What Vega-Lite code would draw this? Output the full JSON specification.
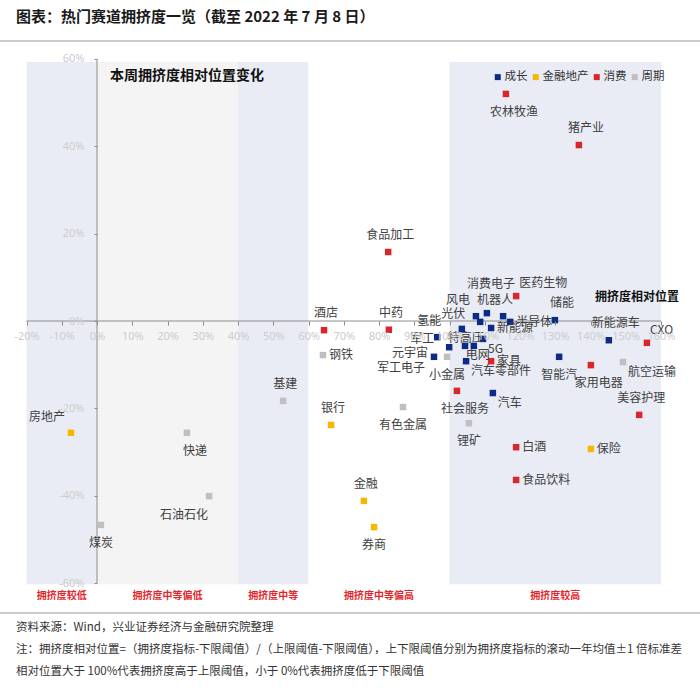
{
  "$schema": "https://vega.github.io/schema/vega-lite/v6.json",
  "width": 700,
  "height": 690,
  "autosize": {"type": "none"},
  "padding": 0,
  "background": "white",
  "config": {"view": {"stroke": null}, "font": "Noto Sans CJK SC", "text": {"font": "Noto Sans CJK SC"}, "axis": {"labelOverlap": false, "labelFlush": false, "labelBound": false}},
  "datasets": {
    "sectors": [
      {"name": "农林牧渔", "type": "消费", "x": 116.0, "y": 52.0},
      {"name": "猪产业", "type": "消费", "x": 136.7, "y": 40.3},
      {"name": "食品加工", "type": "消费", "x": 82.6, "y": 15.8},
      {"name": "酒店", "type": "消费", "x": 64.4, "y": -2.1},
      {"name": "中药", "type": "消费", "x": 82.8, "y": -2.0},
      {"name": "医药生物", "type": "消费", "x": 118.9, "y": 5.7},
      {"name": "CXO", "type": "消费", "x": 156.0, "y": -5.0},
      {"name": "家具", "type": "消费", "x": 111.8, "y": -9.2},
      {"name": "家用电器", "type": "消费", "x": 140.1, "y": -10.1},
      {"name": "社会服务", "type": "消费", "x": 102.1, "y": -16.0},
      {"name": "美容护理", "type": "消费", "x": 153.8, "y": -21.5},
      {"name": "白酒", "type": "消费", "x": 118.9, "y": -28.9},
      {"name": "食品饮料", "type": "消费", "x": 118.9, "y": -36.4},
      {"name": "房地产", "type": "金融地产", "x": -7.4, "y": -25.6},
      {"name": "银行", "type": "金融地产", "x": 66.4, "y": -23.8},
      {"name": "金融", "type": "金融地产", "x": 75.7, "y": -41.2},
      {"name": "券商", "type": "金融地产", "x": 78.6, "y": -47.2},
      {"name": "保险", "type": "金融地产", "x": 140.1, "y": -29.3},
      {"name": "基建", "type": "周期", "x": 52.8, "y": -18.3},
      {"name": "快递", "type": "周期", "x": 25.5, "y": -25.6},
      {"name": "石油石化", "type": "周期", "x": 31.8, "y": -40.1},
      {"name": "煤炭", "type": "周期", "x": 1.1, "y": -46.7},
      {"name": "钢铁", "type": "周期", "x": 64.1, "y": -7.8},
      {"name": "有色金属", "type": "周期", "x": 86.8, "y": -19.7},
      {"name": "锂矿", "type": "周期", "x": 105.5, "y": -23.4},
      {"name": "航空运输", "type": "周期", "x": 149.2, "y": -9.4},
      {"name": "小金属", "type": "周期", "x": 99.3, "y": -8.2},
      {"name": "风电", "type": "成长", "x": 107.5, "y": 1.1},
      {"name": "光伏", "type": "成长", "x": 108.7, "y": -0.2},
      {"name": "消费电子", "type": "成长", "x": 110.6, "y": 1.8},
      {"name": "机器人", "type": "成长", "x": 115.2, "y": 1.1},
      {"name": "半导体", "type": "成长", "x": 117.2, "y": -0.2},
      {"name": "特高压", "type": "成长", "x": 103.5, "y": -1.8},
      {"name": "新能源", "type": "成长", "x": 111.8, "y": -1.6},
      {"name": "氢能", "type": "成长", "x": 96.5, "y": -3.7},
      {"name": "军工", "type": "成长", "x": 99.9, "y": -6.0},
      {"name": "军工电子", "type": "成长", "x": 104.4, "y": -5.7},
      {"name": "电网", "type": "成长", "x": 106.9, "y": -5.7},
      {"name": "5G", "type": "成长", "x": 109.5, "y": -4.1},
      {"name": "元宇宙", "type": "成长", "x": 95.6, "y": -8.2},
      {"name": "汽车零部件", "type": "成长", "x": 104.7, "y": -9.2},
      {"name": "储能", "type": "成长", "x": 129.9, "y": 0.2},
      {"name": "新能源车", "type": "成长", "x": 145.2, "y": -4.4},
      {"name": "智能汽", "type": "成长", "x": 131.1, "y": -8.2},
      {"name": "汽车", "type": "成长", "x": 112.3, "y": -16.5}
    ],
    "regions": [
      {"region": "拥挤度较低", "lo": -20, "hi": 0, "mid": -10},
      {"region": "拥挤度中等偏低", "lo": 0, "hi": 40, "mid": 20},
      {"region": "拥挤度中等", "lo": 40, "hi": 60, "mid": 50},
      {"region": "拥挤度中等偏高", "lo": 60, "hi": 100, "mid": 80},
      {"region": "拥挤度较高", "lo": 100, "hi": 160, "mid": 130}
    ],
    "notes": [
      {"role": "title", "text": "图表：热门赛道拥挤度一览（截至 2022 年 7 月 8 日）"},
      {"role": "heading", "text": "本周拥挤度相对位置变化"},
      {"role": "axisname", "text": "拥挤度相对位置"},
      {"role": "source", "text": "资料来源：Wind，兴业证券经济与金融研究院整理"},
      {"role": "note1", "text": "注：拥挤度相对位置=（拥挤度指标-下限阈值）/（上限阈值-下限阈值），上下限阈值分别为拥挤度指标的滚动一年均值±1 倍标准差"},
      {"role": "note2", "text": "相对位置大于 100%代表拥挤度高于上限阈值，小于 0%代表拥挤度低于下限阈值"}
    ]
  },
  "layer": [
    {
      "data": {"name": "regions"},
      "mark": {"type": "rect"},
      "encoding": {
        "x": {"field": "lo", "type": "quantitative", "title": null, "scale": {"domain": [-27.52, 171.06], "nice": false, "zero": false}},
        "x2": {"field": "hi"},
        "y": {"datum": -60.3, "type": "quantitative", "title": null, "scale": {"domain": [-84.5, 73.51], "nice": false, "zero": false}},
        "y2": {"datum": 59.3},
        "fill": {"field": "region", "type": "nominal", "scale": {"domain": ["拥挤度较低", "拥挤度中等偏低", "拥挤度中等", "拥挤度中等偏高", "拥挤度较高"], "range": ["#e9ecf5", "#f4f4f4", "#e9ecf5", "#ffffff", "#e9ecf5"]}, "legend": null}
      }
    },
    {
      "data": {"name": "regions"},
      "mark": {"type": "text", "align": "center", "baseline": "middle", "fontSize": 10, "fontWeight": "bold", "color": "#e3262b"},
      "encoding": {
        "x": {"field": "mid", "type": "quantitative", "title": null},
        "y": {"datum": -63.0, "type": "quantitative", "title": null},
        "text": {"field": "region"}
      }
    },
    {
      "data": {"name": "notes"},
      "transform": [{"filter": "datum.role == 'title'"}],
      "mark": {"type": "rule", "color": "#9a9a9a", "strokeWidth": 1.2},
      "encoding": {
        "y": {"datum": 64.12, "type": "quantitative", "title": null}
      }
    },
    {
      "data": {"name": "notes"},
      "transform": [{"filter": "datum.role == 'source'"}],
      "mark": {"type": "rule", "color": "#9a9a9a", "strokeWidth": 1.2},
      "encoding": {
        "y": {"datum": -66.87, "type": "quantitative", "title": null}
      }
    },
    {
      "data": {"name": "regions"},
      "transform": [{"filter": "datum.lo == -20"}],
      "mark": {"type": "rule", "color": "#8c8c8c", "strokeWidth": 1},
      "encoding": {
        "x": {"datum": -20, "type": "quantitative", "title": null},
        "x2": {"datum": 160},
        "y": {"datum": 0, "type": "quantitative", "title": null}
      }
    },
    {
      "data": {"name": "regions"},
      "transform": [{"filter": "datum.lo == -20"}],
      "mark": {"type": "rule", "color": "#8c8c8c", "strokeWidth": 1},
      "encoding": {
        "x": {"datum": 0, "type": "quantitative", "title": null},
        "y": {"datum": -60, "type": "quantitative", "title": null},
        "y2": {"datum": 60}
      }
    },
    {
      "data": {"name": "sectors"},
      "mark": {"type": "square", "size": 42, "opacity": 1},
      "encoding": {
        "x": {"field": "x", "type": "quantitative", "title": null, "scale": {"domain": [-27.52, 171.06], "nice": false, "zero": false},
          "axis": {"orient": "bottom", "offset": -369, "zindex": 1, "values": [-20, -10, 0, 10, 20, 30, 40, 50, 60, 70, 80, 90, 100, 110, 120, 130, 140, 150, 160], "tickCount": 19, "labelExpr": "datum.value + '%'", "domain": false, "grid": false, "title": null, "ticks": true, "tickSize": 4, "tickColor": "#8c8c8c", "labelPadding": 5, "labelFont": "Noto Sans", "labelFontSize": 11, "labelColor": "#cccccc", "labelFlush": false, "labelOverlap": false}},
        "y": {"field": "y", "type": "quantitative", "title": null, "scale": {"domain": [-84.5, 73.51], "nice": false, "zero": false},
          "axis": {"orient": "left", "offset": -97, "zindex": 1, "values": [-60, -40, -20, 0, 20, 40, 60], "labelExpr": "datum.value + '%'", "domain": false, "grid": false, "title": null, "ticks": true, "tickSize": 3, "tickColor": "#8c8c8c", "labelPadding": 10, "labelFont": "Noto Sans", "labelFontSize": 11, "labelColor": "#cccccc", "labelFlush": false, "labelOverlap": false}},
        "color": {"field": "type", "type": "nominal",
          "scale": {"domain": ["成长", "金融地产", "消费", "周期"], "range": ["#0d2a85", "#f5b800", "#d8262c", "#bfbfbf"]},
          "legend": {"orient": "none", "legendX": 492, "legendY": 71, "direction": "horizontal", "title": null, "symbolType": "square", "symbolSize": 36, "symbolStrokeWidth": 0, "labelFontSize": 11.5, "labelColor": "#333333", "labelFont": "Noto Sans CJK SC", "labelOffset": 1, "columnPadding": 2, "padding": 0}}
      }
    },
    {
      "data": {"name": "sectors"},
      "transform": [{"filter": {"field": "name", "oneOf": ["食品加工", "酒店", "中药", "美容护理", "银行", "金融", "基建"]}}],
      "mark": {"type": "text", "align": "center", "baseline": "middle", "dx": 2, "dy": -17, "fontSize": 12, "color": "#404040"},
      "encoding": {
        "x": {"field": "x", "type": "quantitative", "title": null},
        "y": {"field": "y", "type": "quantitative", "title": null},
        "text": {"field": "name"}
      }
    },
    {
      "data": {"name": "sectors"},
      "transform": [{"filter": {"field": "name", "oneOf": ["猪产业", "储能", "新能源车"]}}],
      "mark": {"type": "text", "align": "center", "baseline": "middle", "dx": 7, "dy": -17, "fontSize": 12, "color": "#404040"},
      "encoding": {
        "x": {"field": "x", "type": "quantitative", "title": null},
        "y": {"field": "y", "type": "quantitative", "title": null},
        "text": {"field": "name"}
      }
    },
    {
      "data": {"name": "sectors"},
      "transform": [{"filter": {"field": "name", "oneOf": ["机器人", "氢能"]}}],
      "mark": {"type": "text", "align": "center", "baseline": "middle", "dx": -8, "dy": -16, "fontSize": 12, "color": "#404040"},
      "encoding": {
        "x": {"field": "x", "type": "quantitative", "title": null},
        "y": {"field": "y", "type": "quantitative", "title": null},
        "text": {"field": "name"}
      }
    },
    {
      "data": {"name": "sectors"},
      "transform": [{"filter": {"field": "name", "oneOf": ["券商", "煤炭", "有色金属", "锂矿", "小金属", "智能汽"]}}],
      "mark": {"type": "text", "align": "center", "baseline": "middle", "dx": 0, "dy": 18, "fontSize": 12, "color": "#404040"},
      "encoding": {
        "x": {"field": "x", "type": "quantitative", "title": null},
        "y": {"field": "y", "type": "quantitative", "title": null},
        "text": {"field": "name"}
      }
    },
    {
      "data": {"name": "sectors"},
      "transform": [{"filter": {"field": "name", "oneOf": ["农林牧渔", "家用电器", "社会服务", "快递"]}}],
      "mark": {"type": "text", "align": "center", "baseline": "middle", "dx": 8, "dy": 18, "fontSize": 12, "color": "#404040"},
      "encoding": {
        "x": {"field": "x", "type": "quantitative", "title": null},
        "y": {"field": "y", "type": "quantitative", "title": null},
        "text": {"field": "name"}
      }
    },
    {
      "data": {"name": "sectors"},
      "transform": [{"filter": {"field": "name", "oneOf": ["家具", "白酒", "食品饮料", "保险", "钢铁", "半导体", "新能源"]}}],
      "mark": {"type": "text", "align": "left", "baseline": "middle", "dx": 6, "dy": 0, "fontSize": 12, "color": "#404040"},
      "encoding": {
        "x": {"field": "x", "type": "quantitative", "title": null},
        "y": {"field": "y", "type": "quantitative", "title": null},
        "text": {"field": "name"}
      }
    },
    {
      "data": {"name": "sectors"},
      "transform": [{"filter": {"field": "name", "oneOf": ["航空运输", "5G", "汽车", "汽车零部件"]}}],
      "mark": {"type": "text", "align": "left", "baseline": "middle", "dx": 5, "dy": 10, "fontSize": 12, "color": "#404040"},
      "encoding": {
        "x": {"field": "x", "type": "quantitative", "title": null},
        "y": {"field": "y", "type": "quantitative", "title": null},
        "text": {"field": "name"}
      }
    },
    {
      "data": {"name": "sectors"},
      "transform": [{"filter": {"field": "name", "oneOf": ["元宇宙"]}}],
      "mark": {"type": "text", "align": "right", "baseline": "middle", "dx": -6, "dy": -4, "fontSize": 12, "color": "#404040"},
      "encoding": {
        "x": {"field": "x", "type": "quantitative", "title": null},
        "y": {"field": "y", "type": "quantitative", "title": null},
        "text": {"field": "name"}
      }
    },
    {
      "data": {"name": "sectors"},
      "transform": [{"filter": {"field": "name", "oneOf": ["军工", "光伏"]}}],
      "mark": {"type": "text", "align": "right", "baseline": "middle", "dx": -15, "dy": -8, "fontSize": 12, "color": "#404040"},
      "encoding": {
        "x": {"field": "x", "type": "quantitative", "title": null},
        "y": {"field": "y", "type": "quantitative", "title": null},
        "text": {"field": "name"}
      }
    },
    {
      "data": {"name": "sectors"},
      "transform": [{"filter": {"field": "name", "oneOf": ["风电", "房地产"]}}],
      "mark": {"type": "text", "align": "right", "baseline": "middle", "dx": -6, "dy": -16, "fontSize": 12, "color": "#404040"},
      "encoding": {
        "x": {"field": "x", "type": "quantitative", "title": null},
        "y": {"field": "y", "type": "quantitative", "title": null},
        "text": {"field": "name"}
      }
    },
    {
      "data": {"name": "sectors"},
      "transform": [{"filter": {"field": "name", "oneOf": ["石油石化"]}}],
      "mark": {"type": "text", "align": "right", "baseline": "middle", "dx": -1, "dy": 19, "fontSize": 12, "color": "#404040"},
      "encoding": {
        "x": {"field": "x", "type": "quantitative", "title": null},
        "y": {"field": "y", "type": "quantitative", "title": null},
        "text": {"field": "name"}
      }
    },
    {
      "data": {"name": "sectors"},
      "transform": [{"filter": {"field": "name", "oneOf": ["军工电子"]}}],
      "mark": {"type": "text", "align": "right", "baseline": "middle", "dx": -40, "dy": 22, "fontSize": 12, "color": "#404040"},
      "encoding": {
        "x": {"field": "x", "type": "quantitative", "title": null},
        "y": {"field": "y", "type": "quantitative", "title": null},
        "text": {"field": "name"}
      }
    },
    {
      "data": {"name": "sectors"},
      "transform": [{"filter": {"field": "name", "oneOf": ["医药生物", "CXO"]}}],
      "mark": {"type": "text", "align": "left", "baseline": "middle", "dx": 3, "dy": -13, "fontSize": 12, "color": "#404040"},
      "encoding": {
        "x": {"field": "x", "type": "quantitative", "title": null},
        "y": {"field": "y", "type": "quantitative", "title": null},
        "text": {"field": "name"}
      }
    },
    {
      "data": {"name": "sectors"},
      "transform": [{"filter": {"field": "name", "oneOf": ["消费电子"]}}],
      "mark": {"type": "text", "align": "center", "baseline": "middle", "dx": 4, "dy": -29, "fontSize": 12, "color": "#404040"},
      "encoding": {
        "x": {"field": "x", "type": "quantitative", "title": null},
        "y": {"field": "y", "type": "quantitative", "title": null},
        "text": {"field": "name"}
      }
    },
    {
      "data": {"name": "sectors"},
      "transform": [{"filter": {"field": "name", "oneOf": ["特高压", "电网"]}}],
      "mark": {"type": "text", "align": "center", "baseline": "middle", "dx": 4, "dy": 9, "fontSize": 12, "color": "#404040"},
      "encoding": {
        "x": {"field": "x", "type": "quantitative", "title": null},
        "y": {"field": "y", "type": "quantitative", "title": null},
        "text": {"field": "name"}
      }
    },
    {
      "data": {"name": "notes"},
      "transform": [{"filter": "datum.role == 'title'"}],
      "mark": {"type": "text", "align": "left", "baseline": "middle", "fontSize": 15, "fontWeight": "bold", "color": "#1a1a1a"},
      "encoding": {
        "x": {"datum": -22.98, "type": "quantitative", "title": null},
        "y": {"datum": 69.6, "type": "quantitative", "title": null},
        "text": {"field": "text"}
      }
    },
    {
      "data": {"name": "notes"},
      "transform": [{"filter": "datum.role == 'heading'"}],
      "mark": {"type": "text", "align": "left", "baseline": "middle", "fontSize": 14, "fontWeight": "bold", "color": "#111111"},
      "encoding": {
        "x": {"datum": 3.7, "type": "quantitative", "title": null},
        "y": {"datum": 56.1, "type": "quantitative", "title": null},
        "text": {"field": "text"}
      }
    },
    {
      "data": {"name": "notes"},
      "transform": [{"filter": "datum.role == 'axisname'"}],
      "mark": {"type": "text", "align": "center", "baseline": "middle", "fontSize": 12, "fontWeight": "bold", "color": "#111111"},
      "encoding": {
        "x": {"datum": 153.2, "type": "quantitative", "title": null},
        "y": {"datum": 5.5, "type": "quantitative", "title": null},
        "text": {"field": "text"}
      }
    },
    {
      "data": {"name": "notes"},
      "transform": [{"filter": "datum.role == 'source'"}],
      "mark": {"type": "text", "align": "left", "baseline": "middle", "fontSize": 11.5, "color": "#333333"},
      "encoding": {
        "x": {"datum": -22.98, "type": "quantitative", "title": null},
        "y": {"datum": -70.3, "type": "quantitative", "title": null},
        "text": {"field": "text"}
      }
    },
    {
      "data": {"name": "notes"},
      "transform": [{"filter": "datum.role == 'note1'"}],
      "mark": {"type": "text", "align": "left", "baseline": "middle", "fontSize": 11.5, "color": "#333333"},
      "encoding": {
        "x": {"datum": -22.98, "type": "quantitative", "title": null},
        "y": {"datum": -75.34, "type": "quantitative", "title": null},
        "text": {"field": "text"}
      }
    },
    {
      "data": {"name": "notes"},
      "transform": [{"filter": "datum.role == 'note2'"}],
      "mark": {"type": "text", "align": "left", "baseline": "middle", "fontSize": 11.5, "color": "#333333"},
      "encoding": {
        "x": {"datum": -22.98, "type": "quantitative", "title": null},
        "y": {"datum": -80.37, "type": "quantitative", "title": null},
        "text": {"field": "text"}
      }
    }
  ]
}
